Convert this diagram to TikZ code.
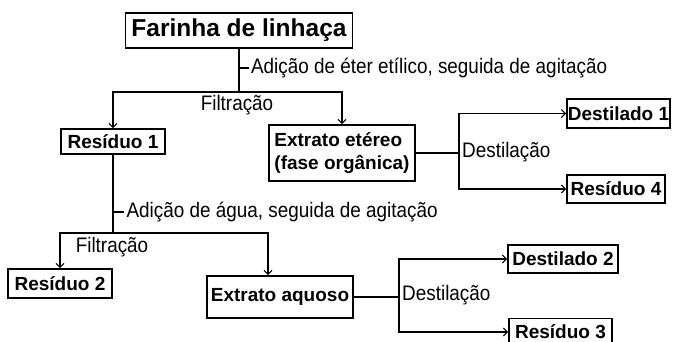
\documentclass[tikz,border=0pt]{standalone}
\usepackage{fontspec}
\setmainfont{Liberation Sans}
\newfontfamily\lblfont{Liberation Sans}[FakeStretch=0.9]
\usetikzlibrary{arrows.meta}
\begin{document}
\begin{tikzpicture}[x=1pt,y=-1pt,
  box/.style={draw, line width=1.6pt, font=\bfseries\fontsize{19}{23}\selectfont, inner sep=0pt, anchor=center},
  conn/.style={line width=1.1pt},
  arr/.style={conn, -{Straight Barb[length=4pt,width=8pt]}},
  lbl/.style={font=\lblfont\fontsize{21}{23}\selectfont, inner sep=0pt}]
\useasboundingbox (0,0) rectangle (674,342);
\fill[white] (0,0) rectangle (674,342);

\node[box, minimum width=227pt, minimum height=35pt, font=\bfseries\fontsize{24.5}{26}\selectfont] (far) at (239,30.5) {Farinha de linhaça};
\node[box, minimum width=104pt, minimum height=25pt] (res1) at (113,141.5) {Resíduo 1};
\node[box, minimum width=146pt, minimum height=56pt, align=left] (ext1) at (342,153) {Extrato etéreo\\(fase orgânica)};
\node[box, minimum width=103pt, minimum height=29pt] (dest1) at (618.5,113.5) {Destilado 1};
\node[box, minimum width=98pt, minimum height=28pt] (res4) at (616,189) {Resíduo 4};
\node[box, minimum width=104pt, minimum height=29pt] (res2) at (60,283.5) {Resíduo 2};
\node[box, minimum width=146pt, minimum height=42pt] (extaq) at (280,297) {Extrato aquoso};
\node[box, minimum width=110pt, minimum height=28pt] (dest2) at (563,259) {Destilado 2};
\node[box, minimum width=103pt, minimum height=27pt] (res3) at (560.5,332) {Resíduo 3};

% first stage
\coordinate (j1) at (239,92);
\coordinate (t1) at (239,68);
\draw[conn] (far.south) -- (j1);
\draw[arr] (j1) -| (res1.north);
\draw[arr] (j1) -| (ext1.north);
\draw[conn] (t1) -- ++(10,0) node[lbl, anchor=west, xshift=1.5pt] (lab1) {Adição de éter etílico, seguida de agitação};
\node[lbl] (fil1) at (237,105) {Filtração};

% distillation 1
\coordinate (d1) at (459,153);
\draw[conn] (ext1.east) -- (d1);
\draw[arr] (d1) |- (dest1.west);
\draw[arr] (d1) |- (res4.west);
\node[lbl, anchor=west] (des1) at (462,152) {Destilação};

% second stage
\coordinate (j2) at (113,233);
\coordinate (t2) at (113,212);
\draw[conn] (res1.south) -- (j2);
\draw[arr] (j2) -| (res2.north);
\draw[arr] (j2) -| ([xshift=-12pt]extaq.north);
\draw[conn] (t2) -- ++(11,0) node[lbl, anchor=west, xshift=2pt] (lab2) {Adição de água, seguida de agitação};
\node[lbl] (fil2) at (112,247) {Filtração};

% distillation 2
\coordinate (d2) at (399,297);
\draw[conn] (extaq.east) -- (d2);
\draw[arr] (d2) |- (dest2.west);
\draw[arr] (d2) |- (res3.west);
\node[lbl, anchor=west] (des2) at (402,295) {Destilação};
\end{tikzpicture}
\end{document}
